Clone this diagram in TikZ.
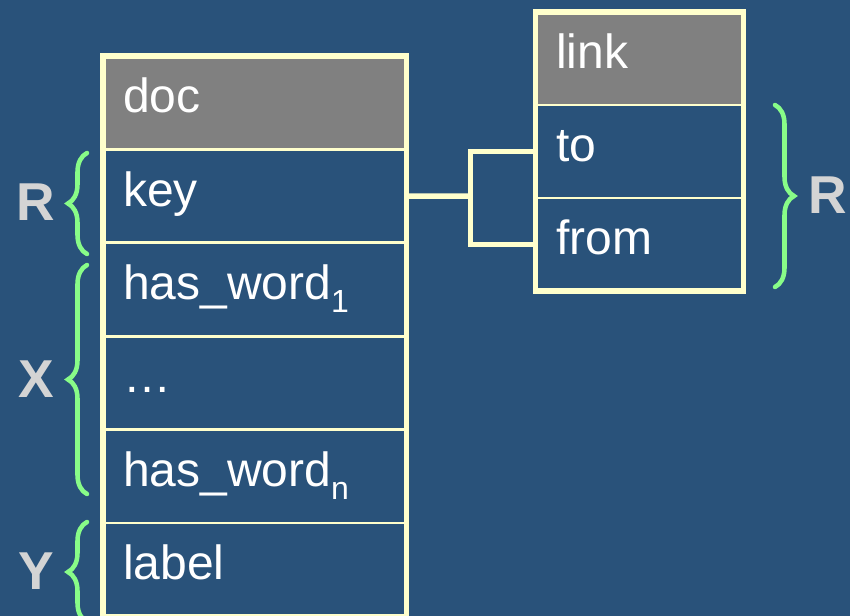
\documentclass[tikz,border=0pt]{standalone}
\usepackage{fontspec}
\setmainfont{Liberation Sans}
\usetikzlibrary{decorations.pathreplacing}
\definecolor{bg}{RGB}{41,82,122}
\definecolor{cream}{RGB}{255,255,204}
\definecolor{hdr}{RGB}{128,128,128}
\definecolor{brc}{RGB}{136,252,136}
\definecolor{lbl}{RGB}{212,212,212}
\newcommand{\sbs}[1]{\raisebox{-10pt}{\fontsize{24}{24}\selectfont #1}}
\begin{document}
\begin{tikzpicture}[x=0.75pt,y=-0.75pt,
  cell/.style={draw=cream, line width=2pt, fill=bg, inner ysep=0pt, outer sep=0pt,
    align=left, text height=20pt, text depth=5pt, text=white,
    font=\fontsize{36}{40}\selectfont, anchor=north west},
  cellL/.style={cell, minimum width=227.6pt, minimum height=70.05pt, text width=197.6pt, inner xsep=15pt},
  cellR/.style={cell, minimum width=156.15pt, minimum height=69.75pt, text width=124.65pt, inner xsep=15.75pt},
  head/.style={fill=hdr},
  outer/.style={draw=cream, line width=4.2pt},
  conn/.style={draw=cream, line width=4pt},
  brc/.style={draw=brc, line width=3.4pt, line cap=round, decorate, decoration={brace, amplitude=14.25pt}},
  lab/.style={text=lbl, font=\fontsize{40}{44}\selectfont\bfseries, inner sep=0pt}]
\useasboundingbox (0,0) rectangle (850,616);
\clip (0,0) rectangle (850,616);
\fill[bg] (0,0) rectangle (850,616);
% left table
\node[cellL, head] (doc) at (103,56) {doc};
\node[cellL] (key) at (103,149.4) {key};
\node[cellL] (hw1) at (103,242.8) {has\_word\sbs{1}};
\node[cellL] (dots) at (103,336.2) {…};
\node[cellL] (hwn) at (103,429.6) {has\_word\sbs{n}};
\node[cellL] (label) at (103,523) {label};
% right table
\node[cellR, head] (link) at (535.3,12) {link};
\node[cellR] (to) at (535.3,105) {to};
\node[cellR] (from) at (535.3,198) {from};
% connectors
\coordinate (j) at (470.5,196.1);
\draw[conn] (key.east) -- (j);
\draw[conn] (to.west) -| (j);
\draw[conn] (from.west) -| (j);
% outer borders
\draw[outer] (doc.north west) rectangle (label.south east);
\draw[outer] (link.north west) rectangle (from.south east);
% braces
\draw[brc] (87,254) -- (87,153);
\draw[brc] (87,494) -- (87,265);
\draw[brc] (87,622) -- (87,522);
\draw[brc] (775,105) -- (775,287);
% labels
\node[lab] (r1) at (36,202) {R};
\node[lab] (x) at (36,379) {X};
\node[lab] (y) at (36,571) {Y};
\node[lab] (r2) at (828,195) {R};
\end{tikzpicture}
\end{document}
